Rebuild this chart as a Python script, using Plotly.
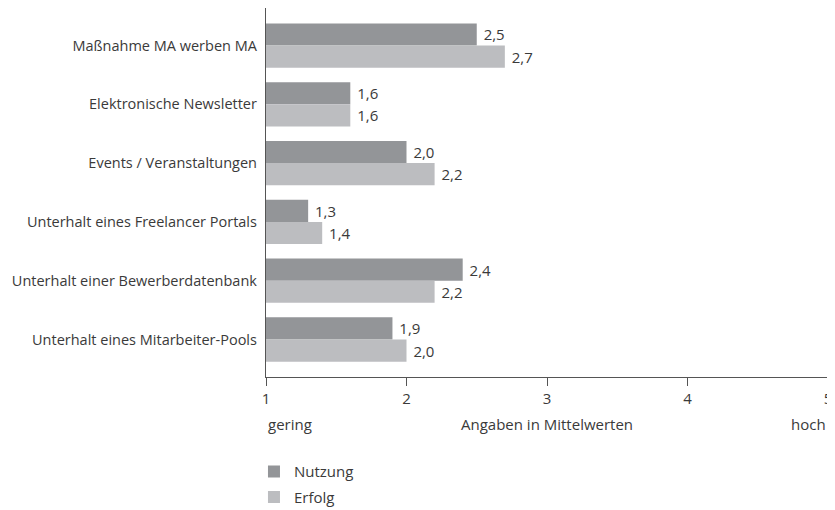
import plotly.graph_objects as go

categories = [
    "Maßnahme MA werben MA",
    "Elektronische Newsletter",
    "Events / Veranstaltungen",
    "Unterhalt eines Freelancer Portals",
    "Unterhalt einer Bewerberdatenbank",
    "Unterhalt eines Mitarbeiter-Pools",
]
nutzung = [2.5, 1.6, 2.0, 1.3, 2.4, 1.9]
erfolg = [2.7, 1.6, 2.2, 1.4, 2.2, 2.0]
x_ticks = [1, 2, 3, 4, 5]

FONT = "Open Sans"
TXT = "#3a3a3a"


def lab(vals):
    return ["\u00a0" + f"{v:.1f}".replace(".", ",") for v in vals]


fig = go.Figure()
fig.add_trace(go.Bar(
    y=categories, x=nutzung, orientation="h", name="Nutzung",
    marker=dict(color="#939598", line=dict(width=0)),
    text=lab(nutzung), textposition="outside", cliponaxis=False,
    textfont=dict(family=FONT, size=15, color=TXT), legendgroup="a",
))
fig.add_trace(go.Bar(
    y=categories, x=erfolg, orientation="h", name="Erfolg",
    marker=dict(color="#bcbdc0", line=dict(width=0)),
    text=lab(erfolg), textposition="outside", cliponaxis=False,
    textfont=dict(family=FONT, size=15, color=TXT), legendgroup="b",
))

# page body has an 8px default margin, so the figure is 8px smaller and shifted
fig.update_layout(
    width=827, height=502,
    margin=dict(l=258, r=7, t=0, b=133, autoexpand=False),
    paper_bgcolor="white", plot_bgcolor="white",
    font=dict(family=FONT, size=15, color=TXT),
    barmode="group", bargap=0.247, bargroupgap=0,
    showlegend=True,
    legend=dict(
        x=-0.0214, xanchor="left", y=-0.2120, yanchor="top",
        orientation="v", tracegroupgap=3,
        font=dict(family=FONT, size=15, color=TXT),
        bgcolor="rgba(0,0,0,0)",
    ),
)
fig.update_xaxes(
    range=[1, 5], tickvals=x_ticks, ticktext=[str(t) for t in x_ticks],
    showgrid=False, zeroline=False,
    showline=True, linecolor="#555555", linewidth=1.3,
    ticks="outside", ticklen=8, tickcolor="#555555", tickwidth=1.3,
    tickfont=dict(family=FONT, size=15, color=TXT),
    ticklabeloverflow="allow",
)
fig.update_yaxes(
    type="category", categoryorder="array", categoryarray=categories,
    range=[5.638, -0.638],
    showgrid=False, zeroline=False,
    showline=True, linecolor="#555555", linewidth=1.3,
    ticks="", ticklabelstandoff=5,
    tickfont=dict(family=FONT, size=14.5, color=TXT),
)

fig.add_annotation(x=1, y=-0.127, xref="x", yref="paper", text="gering",
                   showarrow=False, xanchor="left", yanchor="middle")
fig.add_annotation(x=3, y=-0.127, xref="x", yref="paper", text="Angaben in Mittelwerten",
                   showarrow=False, xanchor="center", yanchor="middle")
fig.add_annotation(x=5, y=-0.127, xref="x", yref="paper", text="hoch",
                   showarrow=False, xanchor="right", yanchor="middle")

fig.write_html("out.html")
